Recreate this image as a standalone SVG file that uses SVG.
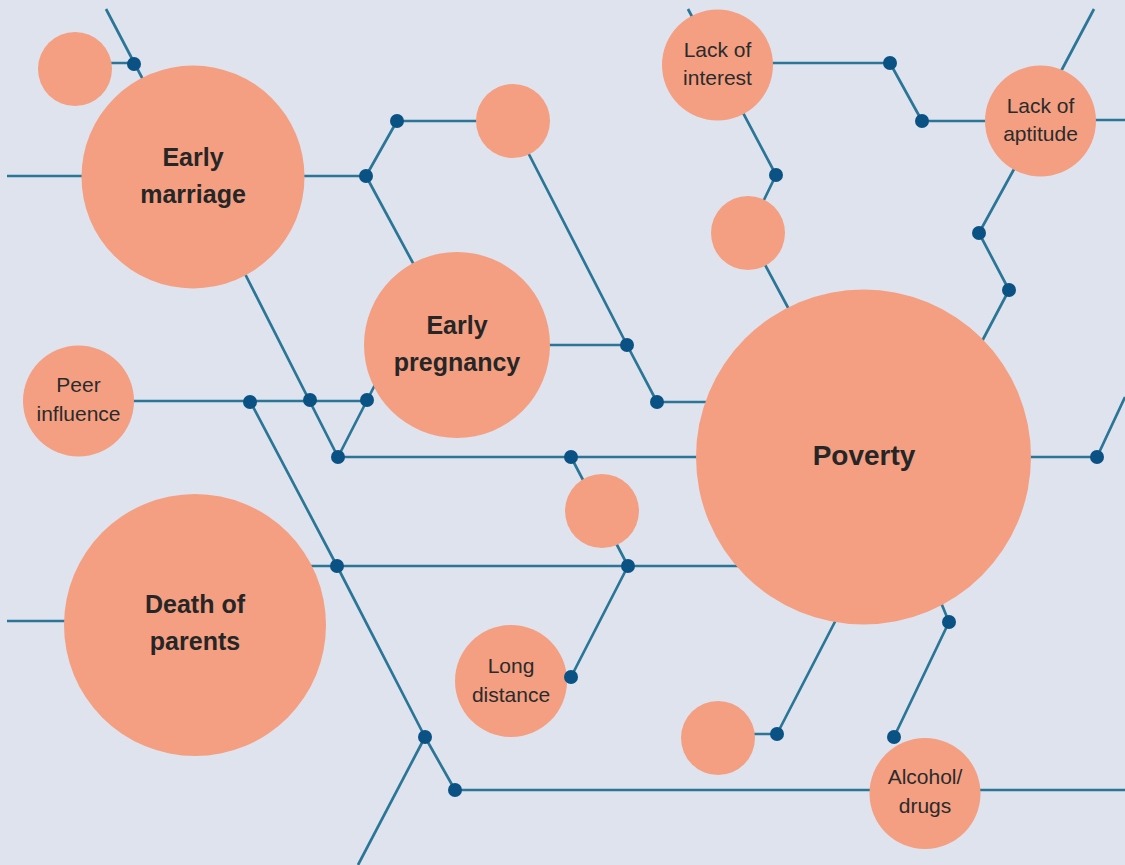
<svg xmlns="http://www.w3.org/2000/svg" width="1125" height="865" viewBox="0 0 1125 865">
<style>
.bg{fill:#dfe3ee}
.c{fill:#f49f82}
.ln{fill:none;stroke:#2b7697;stroke-width:2.7;stroke-linejoin:round}
.d{fill:#0a5283}
.b{font-family:"Liberation Sans",Arial,sans-serif;font-weight:bold;font-size:25px;fill:#262626;text-anchor:middle}
.p{font-family:"Liberation Sans",Arial,sans-serif;font-size:21px;fill:#2b2b2b;text-anchor:middle}
</style>
<rect class="bg" x="0" y="0" width="1125" height="865"/>
<g id="connectors">
<path class="ln" d="M106,9 L150,93"/>
<path class="ln" d="M100,63 H134"/>
<path class="ln" d="M7,176 H100"/>
<path class="ln" d="M290,176 H366 L397,121 H490"/>
<path class="ln" d="M366,176 L420,276"/>
<path class="ln" d="M240,264 L338,457 L380,375"/>
<path class="ln" d="M120,401 H367"/>
<path class="ln" d="M338,457 H720"/>
<path class="ln" d="M250,401 L337,566 L425,737 L455,790 H1125"/>
<path class="ln" d="M300,566 H760"/>
<path class="ln" d="M425,737 L358,865"/>
<path class="ln" d="M7,621 H100"/>
<path class="ln" d="M518,133 L627,345 L657,402 H720"/>
<path class="ln" d="M530,345 H627"/>
<path class="ln" d="M571,457 L628,566 L571,677"/>
<path class="ln" d="M688,9 L776,175 L748,233 L800,330"/>
<path class="ln" d="M760,63 H890 L922,121 H1000"/>
<path class="ln" d="M1094,9 L1050,92"/>
<path class="ln" d="M1080,120 H1125"/>
<path class="ln" d="M1030,140 L979,233 L1009,290 L960,383"/>
<path class="ln" d="M1000,457 H1097 L1125,397"/>
<path class="ln" d="M935,588 L949,622 L894,737"/>
<path class="ln" d="M840,612 L777,734 H740"/>
</g>
<g id="n-small1"><circle class="c" cx="75" cy="69" r="37"/></g>
<g id="n-early-marriage"><circle class="c" cx="193" cy="177" r="111.5"/>
<text class="b" x="193" y="166">Early</text><text class="b" x="193" y="203">marriage</text></g>
<g id="n-small2"><circle class="c" cx="513" cy="121" r="37"/></g>
<g id="n-lack-interest"><circle class="c" cx="717.5" cy="65" r="55.5"/>
<text class="p" x="717.5" y="57">Lack of</text><text class="p" x="717.5" y="85">interest</text></g>
<g id="n-small3"><circle class="c" cx="748" cy="233" r="37"/></g>
<g id="n-lack-aptitude"><circle class="c" cx="1040.5" cy="121" r="55.5"/>
<text class="p" x="1040.5" y="113">Lack of</text><text class="p" x="1040.5" y="141">aptitude</text></g>
<g id="n-early-pregnancy"><circle class="c" cx="457" cy="345" r="93"/>
<text class="b" x="457" y="334">Early</text><text class="b" x="457" y="371">pregnancy</text></g>
<g id="n-peer"><circle class="c" cx="78.5" cy="401" r="55.5"/>
<text class="p" x="78.5" y="392">Peer</text><text class="p" x="78.5" y="421">influence</text></g>
<g id="n-poverty"><circle class="c" cx="863.5" cy="457" r="167.5"/>
<text class="b" x="864" y="465" style="font-size:28px">Poverty</text></g>
<g id="n-small4"><circle class="c" cx="602" cy="511" r="37"/></g>
<g id="n-death-parents"><circle class="c" cx="195" cy="625" r="131"/>
<text class="b" x="195" y="613">Death of</text><text class="b" x="195" y="650">parents</text></g>
<g id="n-long-distance"><circle class="c" cx="511" cy="681" r="56"/>
<text class="p" x="511" y="673">Long</text><text class="p" x="511" y="702">distance</text></g>
<g id="n-small5"><circle class="c" cx="718" cy="738" r="37"/></g>
<g id="n-alcohol"><circle class="c" cx="925" cy="793.5" r="55.5"/>
<text class="p" x="925" y="784">Alcohol/</text><text class="p" x="925" y="813">drugs</text></g>
<g id="junctions">
<circle class="d" cx="134" cy="64" r="7"/>
<circle class="d" cx="366" cy="176" r="7"/>
<circle class="d" cx="397" cy="121" r="7"/>
<circle class="d" cx="627" cy="345" r="7"/>
<circle class="d" cx="657" cy="402" r="7"/>
<circle class="d" cx="776" cy="175" r="7"/>
<circle class="d" cx="890" cy="63" r="7"/>
<circle class="d" cx="922" cy="121" r="7"/>
<circle class="d" cx="979" cy="233" r="7"/>
<circle class="d" cx="1009" cy="290" r="7"/>
<circle class="d" cx="1097" cy="457" r="7"/>
<circle class="d" cx="250" cy="402" r="7"/>
<circle class="d" cx="310" cy="400" r="7"/>
<circle class="d" cx="367" cy="400" r="7"/>
<circle class="d" cx="338" cy="457" r="7"/>
<circle class="d" cx="571" cy="457" r="7"/>
<circle class="d" cx="337" cy="566" r="7"/>
<circle class="d" cx="628" cy="566" r="7"/>
<circle class="d" cx="571" cy="677" r="7"/>
<circle class="d" cx="425" cy="737" r="7"/>
<circle class="d" cx="455" cy="790" r="7"/>
<circle class="d" cx="777" cy="734" r="7"/>
<circle class="d" cx="949" cy="622" r="7"/>
<circle class="d" cx="894" cy="737" r="7"/>
</g>
</svg>
